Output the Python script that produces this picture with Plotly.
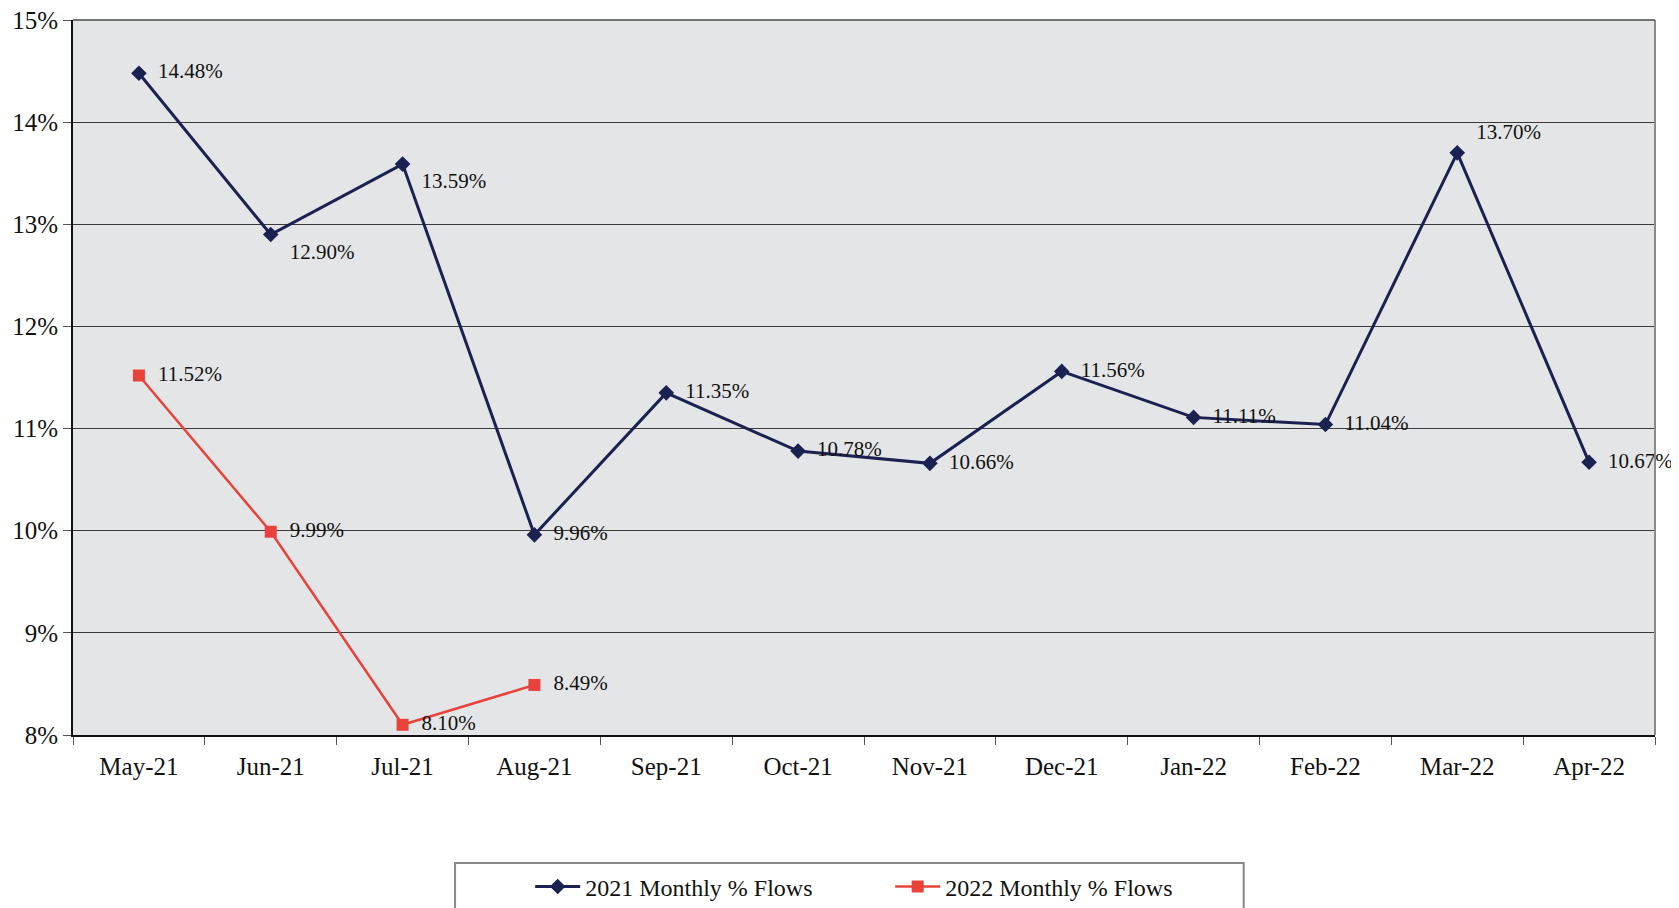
import plotly.graph_objects as go

months = ["May-21", "Jun-21", "Jul-21", "Aug-21", "Sep-21", "Oct-21",
          "Nov-21", "Dec-21", "Jan-22", "Feb-22", "Mar-22", "Apr-22"]
flows_2021 = [14.48, 12.90, 13.59, 9.96, 11.35, 10.78, 10.66, 11.56, 11.11, 11.04, 13.70, 10.67]
months_2022 = ["May-21", "Jun-21", "Jul-21", "Aug-21"]
flows_2022 = [11.52, 9.99, 8.10, 8.49]
y_ticks = [8, 9, 10, 11, 12, 13, 14, 15]

FONT = "Liberation Serif"
NAVY = "#1b2150"
RED = "#e8423b"
PAD = "\u00a0\u00a0"

pos_2021 = ["middle right"] * len(flows_2021)
pos_2021[1] = "bottom right"
pos_2021[2] = "bottom right"
pos_2021[10] = "top right"

fig = go.Figure()
fig.add_trace(go.Scatter(
    x=months, y=flows_2021, mode="lines+markers+text",
    name="2021 Monthly % Flows",
    line=dict(color=NAVY, width=3),
    marker=dict(symbol="diamond", size=12, color=NAVY),
    text=[f"{PAD}{v:.2f}%" for v in flows_2021],
    textposition=pos_2021,
    textfont=dict(family=FONT, size=21, color="#111"),
    cliponaxis=False,
))
fig.add_trace(go.Scatter(
    x=months_2022, y=flows_2022, mode="lines+markers+text",
    name="2022 Monthly % Flows",
    line=dict(color=RED, width=2.5),
    marker=dict(symbol="square", size=12, color=RED),
    text=[f"{PAD}{v:.2f}%" for v in flows_2022],
    textposition="middle right",
    textfont=dict(family=FONT, size=21, color="#111"),
    cliponaxis=False,
))

# legend frame
fig.add_shape(type="rect", xref="paper", yref="paper",
              x0=0.2415, x1=0.740, y0=-0.179, y1=-0.3,
              line=dict(color="#888", width=2), fillcolor="white", layer="below")
# right plot border
fig.add_shape(type="line", xref="paper", yref="paper",
              x0=1, x1=1, y0=0, y1=1, line=dict(color="#8a8a8a", width=2))
# top plot border (15% line)
fig.add_shape(type="line", xref="paper", yref="paper",
              x0=0, x1=1, y0=1, y1=1, line=dict(color="#4a4a4a", width=1.5))

fig.update_layout(
    width=1679, height=908,
    margin=dict(l=65, r=32, t=12, b=181, autoexpand=False),
    paper_bgcolor="white",
    plot_bgcolor="#e4e5e7",
    font=dict(family=FONT, size=25, color="#111"),
    showlegend=True,
    legend=dict(orientation="h", xref="container", yref="container",
                x=0.311, xanchor="left", y=0.032, yanchor="middle",
                bgcolor="rgba(0,0,0,0)", font=dict(family=FONT, size=24),
                entrywidth=300, itemwidth=45),
    xaxis=dict(
        type="category", categoryorder="array", categoryarray=months,
        range=[-0.5, 11.5], automargin=False,
        showgrid=False, showline=True, linecolor="#111", linewidth=2,
        ticks="outside", tickson="boundaries", ticklen=8, tickcolor="#555",
        tickfont=dict(family=FONT, size=25),
        ticklabelstandoff=8,
    ),
    yaxis=dict(
        range=[8, 15.001], tickvals=y_ticks, ticktext=[f"{v}%" for v in y_ticks],
        automargin=False, ticklabeloverflow="allow",
        showgrid=True, gridcolor="#3a3a3a", gridwidth=1,
        showline=True, linecolor="#111", linewidth=2,
        ticks="outside", ticklen=8, tickcolor="#555",
        tickfont=dict(family=FONT, size=25),
        zeroline=False,
    ),
)

fig.write_html("out.html")
